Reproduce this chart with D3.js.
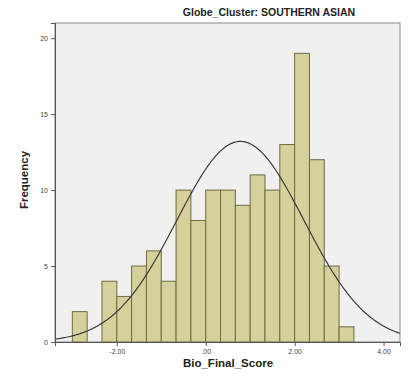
<!DOCTYPE html>
<html>
<head>
<meta charset="utf-8">
<script src="https://cdn.jsdelivr.net/npm/d3@7/dist/d3.min.js"></script>
<style>
  body { margin: 0; background: #fff; }
  svg { display: block; font-family: Arial, "Liberation Sans", sans-serif; }
</style>
</head>
<body>
<div id="chart"></div>
<script>
// bin edges (width 1/3) and frequencies
const binStarts = [-3, -8/3, -7/3, -2, -5/3, -4/3, -1, -2/3, -1/3, 0, 1/3, 2/3, 1, 4/3, 5/3, 2, 7/3, 8/3, 3];
const counts = [2, 0, 4, 3, 5, 6, 4, 10, 8, 10, 10, 9, 11, 10, 13, 19, 12, 5, 1];
const binWidth = 1 / 3;
const xTicks = [-2, 0, 2, 4];
const xTickLabels = ['-2.00', '.00', '2.00', '4.00'];
const yTicks = [0, 5, 10, 15, 20];
const fitMean = 0.78;
const fitSd = 1.43;

const W = 409, H = 381;
const margin = { top: 23, right: 9, bottom: 39, left: 55 };
const width = W - margin.left - margin.right;
const height = H - margin.top - margin.bottom;

const svg = d3.select('#chart').append('svg').attr('width', W).attr('height', H);

svg.append('text')
  .attr('x', 269).attr('y', 16)
  .attr('text-anchor', 'middle')
  .style('font-size', '10.5px').style('font-weight', 'bold').style('fill', '#222')
  .text('Globe_Cluster: SOUTHERN ASIAN');

const g = svg.append('g').attr('transform', `translate(${margin.left},${margin.top})`);

const x = d3.scaleLinear().domain([-3.39, 4.37]).range([0, width]);
const y = d3.scaleLinear().domain([0, 21]).range([height, 0]);

g.append('rect')
  .attr('width', width).attr('height', height)
  .attr('fill', '#f0f0f0').attr('stroke', '#8a8a8a');

const bins = binStarts.map((s, i) => ({ x0: s, x1: s + binWidth, n: counts[i] }));

g.selectAll('rect.bar')
  .data(bins.filter(d => d.n > 0))
  .join('rect')
  .attr('class', 'bar')
  .attr('x', d => x(d.x0))
  .attr('y', d => y(d.n))
  .attr('width', d => x(d.x1) - x(d.x0))
  .attr('height', d => y(0) - y(d.n))
  .attr('fill', '#d6d09a')
  .attr('stroke', '#6f6b42')
  .attr('stroke-width', 1);

// fitted normal curve scaled to frequency
const total = d3.sum(counts);
const curvePts = d3.range(0, 301).map(i => {
  const v = -3.39 + (4.37 + 3.39) * i / 300;
  const z = (v - fitMean) / fitSd;
  return [v, total * binWidth / (fitSd * Math.sqrt(2 * Math.PI)) * Math.exp(-0.5 * z * z)];
});
g.append('path')
  .datum(curvePts)
  .attr('fill', 'none')
  .attr('stroke', '#3a3a3a')
  .attr('stroke-width', 1.2)
  .attr('d', d3.line().x(d => x(d[0])).y(d => y(d[1])));

const xAxis = g.append('g')
  .attr('transform', `translate(0,${height})`)
  .call(d3.axisBottom(x).tickValues(xTicks).tickSize(4)
    .tickFormat((d, i) => xTickLabels[i]));
const yAxis = g.append('g')
  .call(d3.axisLeft(y).tickValues(yTicks).tickSize(4));

[xAxis, yAxis].forEach(a => {
  a.select('.domain').attr('stroke', '#555');
  a.selectAll('.tick line').attr('stroke', '#555');
  a.selectAll('.tick text').style('font-size', '7px').style('fill', '#444')
    .style('font-family', 'Arial, "Liberation Sans", sans-serif');
});

svg.append('text')
  .attr('x', 228).attr('y', 367)
  .attr('text-anchor', 'middle')
  .style('font-size', '11.5px').style('font-weight', 'bold').style('fill', '#222')
  .text('Bio_Final_Score');

svg.append('text')
  .attr('transform', 'translate(28,180) rotate(-90)')
  .attr('text-anchor', 'middle')
  .style('font-size', '11.5px').style('font-weight', 'bold').style('fill', '#222')
  .text('Frequency');
</script>
</body>
</html>
